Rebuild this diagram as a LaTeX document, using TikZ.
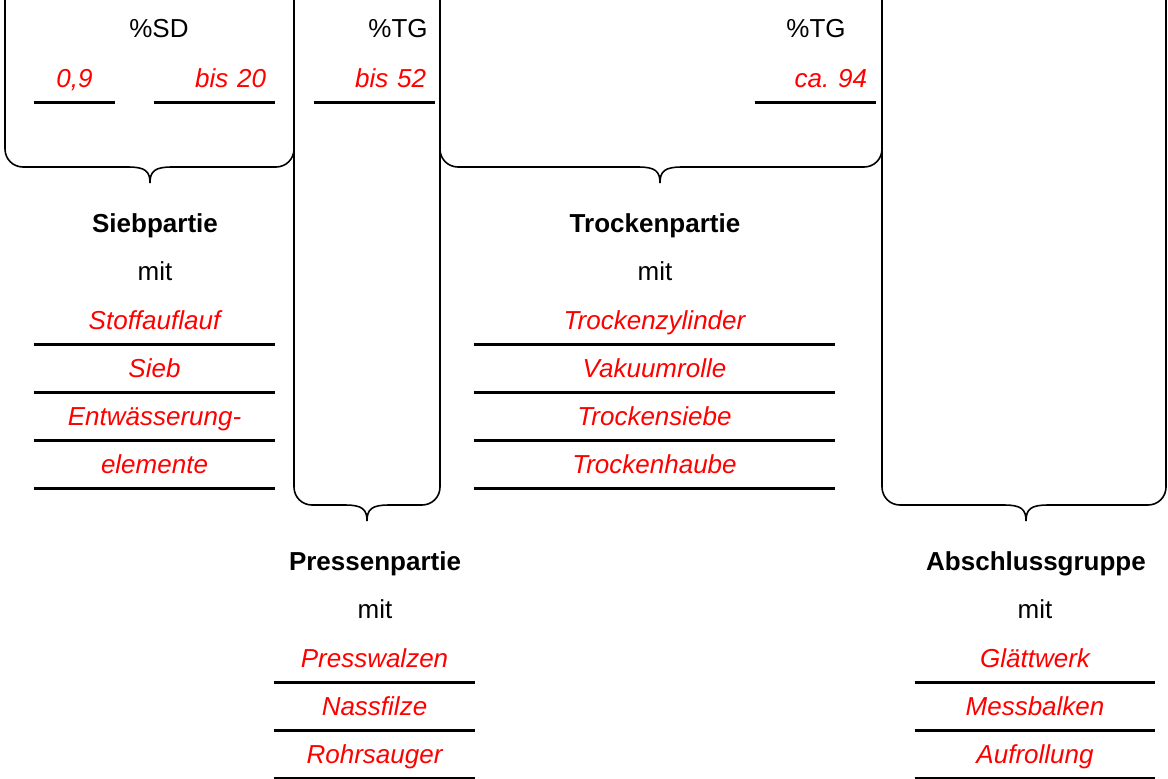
\documentclass[tikz,border=0pt]{standalone}
\usepackage{fontspec}
\setmainfont{Liberation Sans}
\usepackage{tikz}

\newcommand\basefont{\fontsize{14.8}{18}\selectfont}
% open brace: left, right, bottom, tip
\newcommand\groupbrace[4]{%
  \draw[brace] (#1,-5) -- (#1,#3-18) .. controls (#1,#3-8) and (#1+8,#3) .. (#1+18,#3)
    -- (#4-22,#3) .. controls (#4-5,#3) and (#4,#3+4) .. (#4,#3+16)
    .. controls (#4,#3+4) and (#4+5,#3) .. (#4+22,#3)
    -- (#2-18,#3) .. controls (#2-8,#3) and (#2,#3-8) .. (#2,#3-18) -- (#2,-5);}

\begin{document}
\begin{tikzpicture}[x=0.02cm,y=-0.02cm,font=\basefont]
      \tikzstyle{every node}=[text height=10.7pt,text depth=0pt]
      \tikzstyle{head}=[font=\basefont\bfseries]
      \tikzstyle{entry}=[text=red,font=\basefont\itshape,inner sep=0pt,minimum height=0.96cm]
      \tikzstyle{value}=[entry,align=right,inner xsep=0.18cm,text width=2.06cm]
      \tikzstyle{rule}=[line width=1.7pt]
      \tikzstyle{brace}=[line width=0.9pt]

      \useasboundingbox (0,0) rectangle (1168,778);

      \groupbrace{5}{294}{167}{150}
      \groupbrace{294}{440}{505}{367}
      \groupbrace{440}{882}{167}{660}
      \groupbrace{882}{1166}{505}{1026}

      % dry content
      \node (sd) at (159,28) {\%SD};
      \node (tg1) at (398,28) {\%TG};
      \node (tg2) at (816,28) {\%TG};
      \node[entry,minimum width=1.62cm] (v09) at (74.5,78) {0,9};
      \node[value] (v20) at (214.5,78) {bis 20};
      \node[value] (v52) at (374.5,78) {bis 52};
      \node[value] (v94) at (815.5,78) {ca.\ 94};
      \draw[rule] (v09.south west) -- (v09.south east);
      \draw[rule] (v20.south west) -- (v20.south east);
      \draw[rule] (v52.south west) -- (v52.south east);
      \draw[rule] (v94.south west) -- (v94.south east);

      % Siebpartie
      \node[head] (sieb) at (155,223) {Siebpartie};
      \node (siebmit) at (155,271) {mit};
      \node[entry,minimum width=4.82cm] (sieb1) at (154.5,320) {Stoffauflauf};
      \node[entry,minimum width=4.82cm] (sieb2) at (154.5,368) {Sieb};
      \node[entry,minimum width=4.82cm] (sieb3) at (154.5,416) {Entwässerung-};
      \node[entry,minimum width=4.82cm] (sieb4) at (154.5,464) {elemente};
      \foreach \n in {sieb1,sieb2,sieb3,sieb4}
        \draw[rule] (\n.south west) -- (\n.south east);

      % Pressenpartie
      \node[head] (press) at (375,561) {Pressenpartie};
      \node (pressmit) at (375,609) {mit};
      \node[entry,minimum width=4.02cm] (press1) at (374.5,658) {Presswalzen};
      \node[entry,minimum width=4.02cm] (press2) at (374.5,706) {Nassfilze};
      \node[entry,minimum width=4.02cm] (press3) at (374.5,754) {Rohrsauger};
      \foreach \n in {press1,press2,press3}
        \draw[rule] (\n.south west) -- (\n.south east);

      % Trockenpartie
      \node[head] (trock) at (655,223) {Trockenpartie};
      \node (trockmit) at (655,271) {mit};
      \node[entry,minimum width=7.22cm] (trock1) at (654.5,320) {Trockenzylinder};
      \node[entry,minimum width=7.22cm] (trock2) at (654.5,368) {Vakuumrolle};
      \node[entry,minimum width=7.22cm] (trock3) at (654.5,416) {Trockensiebe};
      \node[entry,minimum width=7.22cm] (trock4) at (654.5,464) {Trockenhaube};
      \foreach \n in {trock1,trock2,trock3,trock4}
        \draw[rule] (\n.south west) -- (\n.south east);

      % Abschlussgruppe
      \node[head] (absch) at (1036,561) {Abschlussgruppe};
      \node (abschmit) at (1035,609) {mit};
      \node[entry,minimum width=4.8cm] (absch1) at (1035,658) {Glättwerk};
      \node[entry,minimum width=4.8cm] (absch2) at (1035,706) {Messbalken};
      \node[entry,minimum width=4.8cm] (absch3) at (1035,754) {Aufrollung};
      \foreach \n in {absch1,absch2,absch3}
        \draw[rule] (\n.south west) -- (\n.south east);
\end{tikzpicture}
\end{document}
